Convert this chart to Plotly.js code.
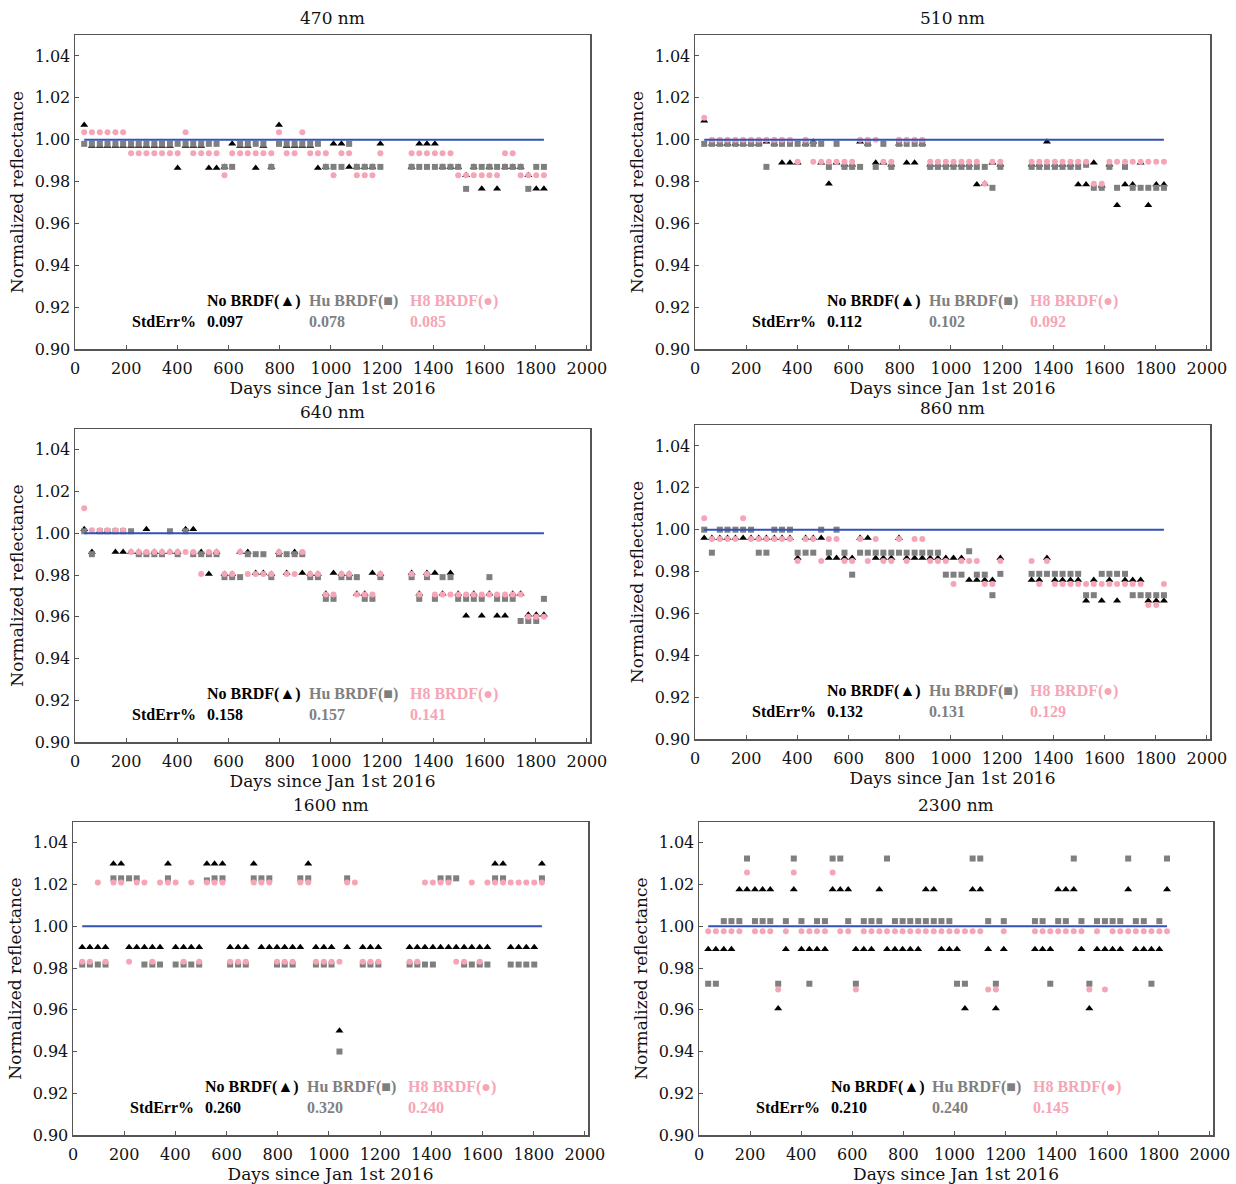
<!DOCTYPE html>
<html>
<head>
<meta charset="utf-8">
<script src="https://cdn.plot.ly/plotly-3.0.1.min.js"></script>
<style>html,body{margin:0;padding:0;background:#fff;}#chart{width:1236px;height:1184px;}</style>
</head>
<body>
<div id="chart"></div>
<script>
// Days since Jan 1st 2016 (monthly samples)
const days = [36,66,97,127,158,188,219,249,279,310,
  340,371,401,432,462,493,523,553,584,614,
  645,675,706,736,767,797,827,858,888,919,
  949,980,1010,1041,1071,1101,1132,1162,1193,1223,
  1254,1284,1315,1345,1375,1406,1436,1467,1497,1528,
  1558,1589,1619,1649,1680,1710,1741,1771,1802,1832];

const panelTitles = ['470 nm','510 nm','640 nm','860 nm','1600 nm','2300 nm'];
const seriesNames = ['No BRDF(\u25B2)','Hu BRDF(\u25A0)','H8 BRDF(\u25CF)'];
const refValue = 1.0;

// 470 nm
const noBrdf470 = [1.007,0.997,0.997,0.997,0.997,0.997,0.997,0.997,0.997,0.997,
  0.997,0.997,0.9865,0.997,0.997,0.997,0.9865,0.9865,0.987,0.998,
  0.997,0.997,0.9865,0.997,0.987,1.007,0.997,0.997,0.997,0.997,
  0.9865,0.987,0.998,0.998,0.987,0.987,0.987,0.987,0.998,null,
  null,null,0.987,0.998,0.998,0.998,0.987,0.987,0.987,0.983,
  0.987,0.9765,0.987,0.9765,0.987,0.987,0.987,0.983,0.9765,0.9765];
const huBrdf470 = [0.998,0.998,0.998,0.998,0.998,0.998,0.998,0.998,0.998,0.998,
  0.998,0.998,0.998,0.998,0.998,0.998,0.998,0.998,0.987,0.987,
  0.998,0.998,0.998,0.998,0.987,0.998,0.998,0.998,0.998,0.998,
  0.998,0.987,0.987,0.987,0.998,0.987,0.987,0.987,0.987,null,
  null,null,0.987,0.987,0.987,0.987,0.987,0.987,0.987,0.9765,
  0.987,0.987,0.987,0.987,0.987,0.987,0.987,0.9765,0.987,0.987];
const h8Brdf470 = [1.0035,1.0035,1.0035,1.0035,1.0035,1.0035,0.9935,0.9935,0.9935,0.9935,
  0.9935,0.9935,0.9935,1.0035,0.9935,0.9935,0.9935,0.9935,0.983,0.9935,
  0.9935,0.9935,0.9935,0.9935,0.9935,1.0035,0.9935,0.9935,1.0035,0.9935,
  0.9935,0.9935,0.983,0.9935,0.9935,0.983,0.983,0.983,0.9935,null,
  null,null,0.9935,0.9935,0.9935,0.9935,0.9935,0.9935,0.983,0.983,
  0.983,0.983,0.983,0.983,0.9935,0.9935,0.983,0.983,0.983,0.983];
const stdErr470 = ['0.097','0.078','0.085'];

// 510 nm
const noBrdf510 = [1.009,0.998,0.998,0.998,0.998,0.998,0.998,0.998,0.999,0.998,
  0.989,0.989,0.989,0.998,0.999,0.989,0.979,0.989,0.988,0.988,
  0.999,0.998,0.989,0.989,0.988,0.998,0.989,0.989,0.998,0.988,
  0.988,0.988,0.988,0.988,0.988,0.9786,0.979,0.989,0.988,null,
  null,null,0.988,0.988,0.999,0.988,0.988,0.988,0.9786,0.9786,
  0.989,0.978,0.988,0.9687,0.9786,0.9786,0.989,0.9687,0.9786,0.9786];
const huBrdf510 = [0.998,0.998,0.998,0.998,0.998,0.998,0.998,0.998,0.987,0.998,
  0.998,0.998,0.998,0.998,0.998,0.998,0.987,0.998,0.987,0.987,
  0.987,0.998,0.987,0.998,0.987,0.998,0.998,0.998,0.998,0.987,
  0.987,0.987,0.987,0.987,0.987,0.987,0.987,0.977,0.987,null,
  null,null,0.987,0.987,0.987,0.987,0.987,0.987,0.987,0.988,
  0.977,0.977,0.987,0.977,0.987,0.977,0.977,0.977,0.977,0.977];
const h8Brdf510 = [1.0105,1.0,1.0,1.0,1.0,1.0,1.0,1.0,1.0,1.0,
  1.0,1.0,0.9895,1.0,0.9895,0.9895,0.9895,0.9895,0.9895,0.9895,
  1.0,1.0,1.0,0.9895,0.9895,1.0,1.0,1.0,1.0,0.9895,
  0.9895,0.9895,0.9895,0.9895,0.9895,0.9895,0.979,0.9895,0.9895,null,
  null,null,0.9895,0.9895,0.9895,0.9895,0.9895,0.9895,0.9895,0.9895,
  0.979,0.979,0.9895,0.9895,0.9895,0.9895,0.9895,0.9895,0.9895,0.9895];
const stdErr510 = ['0.112','0.102','0.092'];

// 640 nm
const noBrdf640 = [1.002,0.991,1.001,1.001,0.991,0.991,0.991,0.991,1.002,0.991,
  0.991,0.991,0.991,1.002,1.002,0.991,0.9805,0.991,0.9805,0.9805,
  0.991,0.991,0.981,0.981,0.9805,0.991,0.981,0.991,0.981,0.9805,
  0.9805,0.971,0.981,0.9805,0.9805,0.971,0.971,0.981,0.9805,null,
  null,null,0.981,0.971,0.981,0.981,0.971,0.981,0.971,0.9605,
  0.971,0.9605,0.971,0.9605,0.9605,0.971,0.971,0.961,0.961,0.961];
const huBrdf640 = [1.001,0.990,1.001,1.001,1.001,1.001,1.001,0.990,0.990,0.990,
  0.990,1.001,0.990,1.001,0.990,0.990,0.990,0.990,0.979,0.979,
  0.979,0.990,0.990,0.990,0.979,0.990,0.990,0.990,0.990,0.979,
  0.979,0.9686,0.9686,0.979,0.979,0.979,0.9686,0.9686,0.979,null,
  null,null,0.979,0.9686,0.979,0.9686,0.979,0.979,0.9686,0.9686,
  0.9686,0.9686,0.979,0.9686,0.9686,0.9686,0.958,0.958,0.958,0.9686];
const h8Brdf640 = [1.012,1.0015,1.0015,1.0015,1.0015,1.0015,0.991,0.991,0.991,0.991,
  0.991,0.991,0.991,0.991,0.991,0.9805,0.991,0.991,0.9805,0.9805,
  0.991,0.9805,0.9805,0.9805,0.9805,0.991,0.9805,0.9805,0.991,0.9805,
  0.9805,0.9707,0.9707,0.9805,0.9805,0.9707,0.9707,0.9707,0.9805,null,
  null,null,0.9805,0.9707,0.9805,0.9707,0.9707,0.9707,0.9707,0.9707,
  0.9707,0.9707,0.9707,0.9707,0.9707,0.9707,0.9707,0.960,0.960,0.960];
const stdErr640 = ['0.158','0.157','0.141'];

// 860 nm
const noBrdf860 = [0.996,0.996,0.996,0.996,0.996,0.996,0.996,0.996,0.996,0.996,
  0.996,0.996,0.9865,0.996,0.996,0.996,0.9865,0.9865,0.9865,0.9865,
  0.996,0.996,0.9865,0.9865,0.9865,0.996,0.9865,0.9865,0.9865,0.9865,
  0.9865,0.9865,0.9865,0.9865,0.976,0.976,0.976,0.976,0.9865,null,
  null,null,0.976,0.976,0.9865,0.976,0.976,0.976,0.976,0.966,
  0.976,0.966,0.976,0.966,0.976,0.976,0.976,0.966,0.966,0.966];
const huBrdf860 = [1.0,0.989,1.0,1.0,1.0,1.0,1.0,0.989,0.989,1.0,
  1.0,1.0,0.989,0.989,0.989,1.0,0.989,1.0,0.989,0.9785,
  0.989,0.989,0.989,0.989,0.989,0.989,0.989,0.989,0.989,0.989,
  0.989,0.9785,0.9785,0.9785,0.9897,0.9785,0.9785,0.9687,0.9789,null,
  null,null,0.9789,0.9789,0.9789,0.9789,0.9789,0.9789,0.9789,0.9687,
  0.9687,0.9789,0.9789,0.9789,0.9789,0.9687,0.9687,0.9687,0.9687,0.9687];
const h8Brdf860 = [1.0055,0.9955,0.9955,0.9955,0.9955,1.0055,0.9955,0.9955,0.9955,0.9955,
  0.9955,0.9955,0.985,0.9955,0.9955,0.985,0.9955,0.9955,0.985,0.985,
  0.9955,0.985,0.9955,0.985,0.985,0.9955,0.985,0.9955,0.9955,0.985,
  0.985,0.985,0.974,0.985,0.985,0.985,0.974,0.974,0.985,null,
  null,null,0.985,0.974,0.985,0.974,0.974,0.974,0.974,0.974,
  0.974,0.974,0.974,0.974,0.974,0.974,0.974,0.964,0.964,0.974];
const stdErr860 = ['0.132','0.131','0.129'];

// 1600 nm
const noBrdf1600 = [0.990,0.990,0.990,0.990,1.030,1.030,0.990,0.990,0.990,0.990,
  0.990,1.030,0.990,0.990,0.990,0.990,1.030,1.030,1.030,0.990,
  0.990,0.990,1.030,0.990,0.990,0.990,0.990,0.990,0.990,1.030,
  0.990,0.990,0.990,0.950,0.990,null,0.990,0.990,0.990,null,
  null,null,0.990,0.990,0.990,0.990,0.990,0.990,0.990,0.990,
  0.990,0.990,0.990,1.030,1.030,0.990,0.990,0.990,0.990,1.030];
const huBrdf1600 = [0.9817,0.9817,0.9817,0.9817,1.023,1.023,1.023,1.023,0.9817,0.9817,
  0.9817,1.023,0.9817,0.9817,0.9817,0.9817,1.022,1.023,1.023,0.9817,
  0.9817,0.9817,1.023,1.023,1.023,0.9817,0.9817,0.9817,1.023,1.023,
  0.9817,0.9817,0.9817,0.940,1.023,null,0.9817,0.9817,0.9817,null,
  null,null,0.9817,0.9817,0.9817,0.9817,1.023,1.023,1.023,0.9817,
  0.9817,0.9817,0.9817,1.023,1.023,0.9817,0.9817,0.9817,0.9817,1.023];
const h8Brdf1600 = [0.983,0.983,1.021,0.983,1.021,1.021,0.983,1.021,1.021,0.983,
  1.021,1.021,1.021,0.983,1.021,0.983,1.021,1.021,1.021,0.983,
  0.983,0.983,1.021,1.021,1.021,0.983,0.983,0.983,1.021,1.021,
  0.983,0.983,0.983,0.983,1.021,1.021,0.983,0.983,0.983,null,
  null,null,0.983,0.983,1.021,1.021,1.021,1.021,0.983,0.983,
  1.021,0.983,1.021,1.021,1.021,1.021,1.021,1.021,1.021,1.021];
const stdErr1600 = ['0.260','0.320','0.240'];

// 2300 nm
const noBrdf2300 = [0.989,0.989,0.989,0.989,1.0177,1.0177,1.0177,1.0177,1.0177,0.9606,
  0.989,1.0177,0.989,0.989,0.989,0.989,1.0177,1.0177,1.0177,0.989,
  0.989,0.989,1.0177,0.989,0.989,0.989,0.989,0.989,1.0177,1.0177,
  0.989,0.989,0.989,0.9606,1.0177,1.0177,0.989,0.9606,0.989,null,
  null,null,0.989,0.989,0.989,1.0177,1.0177,1.0177,0.989,0.9606,
  0.989,0.989,0.989,0.989,1.0177,0.989,0.989,0.989,0.989,1.0177];
const huBrdf2300 = [0.9725,0.9725,1.0025,1.0025,1.0025,1.0325,1.0025,1.0025,1.0025,0.9725,
  1.0025,1.0325,1.0025,0.9725,1.0025,1.0025,1.0325,1.0325,1.0025,0.9725,
  1.0025,1.0025,1.0025,1.0325,1.0025,1.0025,1.0025,1.0025,1.0025,1.0025,
  1.0025,1.0025,0.9725,0.9725,1.0325,1.0325,1.0025,0.9725,1.0025,null,
  null,null,1.0025,1.0025,0.9725,1.0025,1.0025,1.0325,1.0025,0.9725,
  1.0025,1.0025,1.0025,1.0025,1.0325,1.0025,1.0025,0.9725,1.0025,1.0325];
const h8Brdf2300 = [0.9976,0.9976,0.9976,0.9976,0.9976,1.0258,0.9976,0.9976,0.9976,0.9697,
  0.9976,1.0258,0.9976,0.9976,0.9976,0.9976,1.0258,0.9976,0.9976,0.9697,
  0.9976,0.9976,0.9976,0.9976,0.9976,0.9976,0.9976,0.9976,0.9976,0.9976,
  0.9976,0.9976,0.9976,0.9976,0.9976,0.9976,0.9697,0.9697,0.9976,null,
  null,null,0.9976,0.9976,0.9976,0.9976,0.9976,0.9976,0.9976,0.9697,
  0.9976,0.9697,0.9976,0.9976,0.9976,0.9976,0.9976,0.9976,0.9976,0.9976];
const stdErr2300 = ['0.210','0.240','0.145'];

const noBrdf = [noBrdf470, noBrdf510, noBrdf640, noBrdf860, noBrdf1600, noBrdf2300];
const huBrdf = [huBrdf470, huBrdf510, huBrdf640, huBrdf860, huBrdf1600, huBrdf2300];
const h8Brdf = [h8Brdf470, h8Brdf510, h8Brdf640, h8Brdf860, h8Brdf1600, h8Brdf2300];
const stdErr = [stdErr470, stdErr510, stdErr640, stdErr860, stdErr1600, stdErr2300];

// ---- styling / layout ----
const W = 1236, H = 1184;
const boxes = [ // left, right, top, bottom in px
  [75, 590, 35, 349], [695, 1210, 35, 349],
  [75, 590, 429, 742], [695, 1210, 425, 739],
  [73, 588, 822, 1135], [699, 1213, 822, 1135]
];
const colBlack = '#000000', colGray = '#7f7f7f', colPink = '#f6a5b6', colBlue = '#3152b8';
const serif = 'DejaVu Serif, serif';
const boldFont = 'Liberation Serif';

const traces = [];
const layout = {
  width: W, height: H, margin: {l:0, r:0, t:0, b:0},
  paper_bgcolor: '#fff', plot_bgcolor: '#fff', showlegend: false,
  font: {family: serif, size: 16, color: '#111'},
  annotations: []
};

for (let i = 0; i < 6; i++) {
  const n = i + 1;
  const xs = n === 1 ? 'x' : 'x' + n;
  const ys = n === 1 ? 'y' : 'y' + n;
  const xk = n === 1 ? 'xaxis' : 'xaxis' + n;
  const yk = n === 1 ? 'yaxis' : 'yaxis' + n;
  const b = boxes[i];

  traces.push({type:'scatter', mode:'markers', x: days, y: noBrdf[i], xaxis: xs, yaxis: ys,
    name: seriesNames[0], marker:{symbol:'triangle-up', size:7, color: colBlack}});
  traces.push({type:'scatter', mode:'markers', x: days, y: huBrdf[i], xaxis: xs, yaxis: ys,
    name: seriesNames[1], marker:{symbol:'square', size:6, color: colGray}});
  traces.push({type:'scatter', mode:'markers', x: days, y: h8Brdf[i], xaxis: xs, yaxis: ys,
    name: seriesNames[2], marker:{symbol:'circle', size:6, color: colPink}});
  traces.push({type:'scatter', mode:'lines', x: [days[0], days[days.length-1]], y: [refValue, refValue],
    xaxis: xs, yaxis: ys, line:{color: colBlue, width: 2}, hoverinfo:'skip'});

  layout[xk] = {
    domain: [b[0]/W, b[1]/W], anchor: ys, range: [0, 2012],
    tick0: 0, dtick: 200, ticks: 'inside', ticklen: 4, tickcolor: '#555',
    showline: true, mirror: true, linecolor: '#555', linewidth: 1.5,
    showgrid: false, zeroline: false, ticklabelstandoff: 4,
    tickfont: {family: serif, size: 16, color: '#111'},
    title: {text: 'Days since Jan 1st 2016', font: {family: serif, size: 17, color: '#111'}, standoff: 3}
  };
  layout[yk] = {
    domain: [1 - b[3]/H, 1 - b[2]/H], anchor: xs, range: [0.90, 1.05],
    tick0: 0.90, dtick: 0.02, tickformat: '.2f', ticks: 'inside', ticklen: 4, tickcolor: '#555',
    showline: true, mirror: true, linecolor: '#555', linewidth: 1.5,
    showgrid: false, zeroline: false,
    tickfont: {family: serif, size: 16, color: '#111'},
    title: {text: 'Normalized reflectance', font: {family: serif, size: 17, color: '#111'}, standoff: 6}
  };

  // panel title
  layout.annotations.push({text: panelTitles[i], xref: xs + ' domain', yref: ys + ' domain',
    x: 0.5, y: 1, xanchor: 'center', yanchor: 'middle', yshift: 17, showarrow: false,
    font: {family: serif, size: 17, color: '#111'}});

  // series labels + std errors
  const cols = [colBlack, colGray, colPink];
  const xPos = [508, 906, 1300];
  for (let s = 0; s < 3; s++) {
    layout.annotations.push({text: seriesNames[s], xref: xs, yref: ys,
      x: xPos[s], y: 0.923, xanchor: 'left', yanchor: 'middle', showarrow: false,
      font: {family: boldFont, size: 16, weight: 'bold', color: cols[s]}});
    layout.annotations.push({text: stdErr[i][s], xref: xs, yref: ys,
      x: xPos[s], y: 0.913, xanchor: 'left', yanchor: 'middle', showarrow: false,
      font: {family: boldFont, size: 16, weight: 'bold', color: cols[s]}});
  }
  layout.annotations.push({text: 'StdErr%', xref: xs, yref: ys,
    x: 482, y: 0.913, xanchor: 'right', yanchor: 'middle', showarrow: false,
    font: {family: boldFont, size: 16, weight: 'bold', color: colBlack}});
}

Plotly.newPlot('chart', traces, layout, {staticPlot: true, displayModeBar: false});
</script>
</body>
</html>
